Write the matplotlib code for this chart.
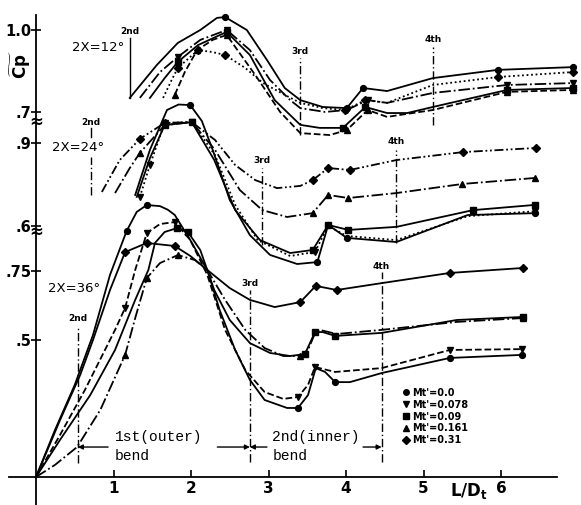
"""Pressure recovery Cp~ along a bent diffuser, three divergence angles (scan redraw)."""
import numpy as np
import matplotlib.pyplot as plt
from matplotlib.lines import Line2D

# ---- data: L/Dt and Cp (each group on its own Cp scale) ----
MACH = ["0.0", "0.078", "0.09", "0.161", "0.31"]
MARKERS = ["o", "v", "s", "^", "D"]

# 2X = 36 deg
x36_m000 = [0, .245, .50, .735, .955, 1.17, 1.30, 1.43, 1.60, 1.70, 1.79, 1.99, 2.21, 2.37, 2.57,
            2.76, 2.95, 3.24, 3.38, 3.51, 3.61, 3.73, 3.86, 4.05, 4.46, 5.34, 6.27]
cp36_m000 = [0, .171, .335, .516, .735, .895, .964, .989, .985, .972, .953, .862, .753, .607, .462,
             .353, .28, .251, .251, .298, .396, .382, .345, .345, .378, .433, .444]
mk36_m000 = [5, 7, 18, 22, 25, 26]
x36_m078 = [0, .31, .63, .89, 1.02, 1.15, 1.28, 1.43, 1.60, 1.79, 1.99, 2.21, 2.44, 2.70,
            2.95, 3.19, 3.38, 3.51, 3.60, 3.86, 4.46, 5.34, 6.27]
cp36_m078 = [0, .153, .316, .462, .535, .615, .753, .887, .92, .927, .862, .735, .535, .389,
             .309, .284, .291, .335, .40, .382, .396, .462, .465]
mk36_m078 = [5, 7, 9, 16, 18, 21, 22]
x36_m090 = [0, .31, .70, 1.02, 1.28, 1.45, 1.535, 1.66, 1.82, 1.96, 2.12, 2.30, 2.50, 2.76,
            3.02, 3.28, 3.47, 3.60, 3.70, 3.86, 4.46, 5.43, 6.28]
cp36_m090 = [0, .135, .298, .462, .644, .753, .851, .891, .905, .891, .825, .68, .571, .487,
             .451, .44, .447, .527, .527, .513, .524, .571, .582]
mk36_m090 = [8, 9, 16, 17, 19, 22]
x36_m161 = [0, .245, .53, .83, 1.15, 1.28, 1.43, 1.60, 1.83, 2.05, 2.21, 2.44, 2.70, 2.95,
            3.19, 3.41, 3.51, 3.59, 3.66, 3.88, 4.46, 5.43, 6.28]
cp36_m161 = [0, .044, .109, .244, .444, .578, .724, .778, .807, .789, .753, .644, .535, .469,
             .44, .44, .462, .516, .535, .52, .535, .564, .578]
mk36_m161 = [4, 6, 8, 15, 22]
x36_m310 = [0, .31, .57, .735, .955, 1.15, 1.43, 1.79, 1.99, 2.21, 2.50, 2.76, 3.08, 3.41,
            3.61, 3.88, 4.46, 5.34, 6.28]
cp36_m310 = [0, .207, .371, .498, .68, .818, .851, .84, .804, .753, .687, .644, .618, .636,
             .695, .68, .705, .742, .76]
mk36_m310 = [5, 6, 7, 13, 14, 15, 17, 18]

# 2X = 24 deg
x24_m000 = [1.28, 1.47, 1.69, 1.84, 1.99, 2.14, 2.28, 2.50, 2.76, 3.02, 3.37, 3.63, 3.77, 4.01,
            4.65, 5.57, 6.44]
cp24_m000 = [.711, .875, 1.02, 1.04, 1.038, .98, .875, .693, .565, .493, .46, .467, .602, .555,
             .54, .638, .645]
mk24_m000 = [4, 11, 12, 13, 16]
x24_m078 = [1.34, 1.47, 1.66, 2.01, 2.31, 2.57, 2.86, 3.28, 3.60, 3.77, 4.01, 4.65, 5.57, 6.44]
cp24_m078 = [.704, .82, .973, .976, .856, .675, .547, .489, .504, .598, .562, .547, .634, .652]
mk24_m078 = [0, 1, 2, 3, 8, 13]
x24_m090 = [1.30, 1.47, 1.66, 2.01, 2.30, 2.57, 2.89, 3.28, 3.57, 3.77, 4.03, 4.65, 5.64, 6.44]
cp24_m090 = [.704, .845, .965, .976, .838, .656, .547, .50, .511, .602, .584, .595, .656, .675]
mk24_m090 = [2, 3, 8, 9, 10, 12, 13]
x24_m161 = [1.02, 1.21, 1.34, 1.66, 2.01, 2.31, 2.63, 2.92, 3.24, 3.57, 3.77, 4.03, 4.65, 5.50, 6.44]
cp24_m161 = [.718, .809, .864, .965, .976, .875, .729, .656, .631, .645, .711, .70, .718, .751, .773]
mk24_m161 = [2, 9, 10, 11, 13, 14]
x24_m310 = [.85, 1.08, 1.34, 1.66, 2.01, 2.31, 2.57, 2.83, 3.11, 3.41, 3.57, 3.77, 4.05, 4.65, 5.51, 6.45]
cp24_m310 = [.722, .838, .915, .973, .976, .911, .82, .765, .736, .744, .765, .809, .802, .838, .867, .882]
mk24_m310 = [2, 3, 10, 11, 12, 14, 15]

# 2X = 12 deg
x12_m000 = [1.21, 1.56, 1.83, 2.12, 2.335, 2.44, 2.72, 2.98, 3.21, 3.41, 3.70, 4.01, 4.22,
            4.53, 5.12, 5.96, 6.93]
cp12_m000 = [.753, .873, .953, 1.0, 1.044, 1.047, 1.0, .891, .789, .745, .72, .716, .789,
             .778, .825, .855, .865]
mk12_m000 = [5, 11, 12, 15, 16]
x12_m078 = [1.34, 1.60, 1.83, 2.12, 2.46, 2.76, 3.02, 3.28, 3.41, 3.73, 4.01, 4.28, 4.53, 5.12, 6.08, 6.93]
cp12_m078 = [.753, .847, .902, .964, 1.0, .927, .818, .745, .716, .702, .709, .745, .735, .771, .80, .807]
mk12_m078 = [2, 4, 10, 11, 14, 15]
x12_m090 = [1.47, 1.66, 1.83, 2.09, 2.46, 2.76, 3.08, 3.41, 3.66, 3.96, 4.25, 4.53, 4.79, 5.12, 6.08, 6.93]
cp12_m090 = [.753, .825, .884, .945, .993, .909, .745, .655, .644, .644, .72, .698, .698, .72, .782, .789]
mk12_m090 = [2, 4, 9, 10, 14, 15]
x12_m161 = [1.79, 1.92, 2.08, 2.28, 2.46, 2.83, 3.15, 3.41, 3.79, 4.01, 4.28, 4.53, 5.12, 6.08, 6.93]
cp12_m161 = [.764, .847, .927, .964, .982, .836, .702, .625, .618, .636, .709, .684, .709, .775, .782]
mk12_m161 = [0, 2, 4, 9, 10, 13, 14]
x12_m310 = [1.64, 1.75, 1.83, 1.99, 2.09, 2.27, 2.44, 2.70, 2.93, 3.21, 3.41, 3.70, 3.99,
            4.25, 4.53, 5.12, 5.96, 6.93]
cp12_m310 = [.753, .818, .862, .902, .927, .92, .909, .862, .807, .764, .735, .716, .709,
             .745, .735, .80, .829, .847]
mk12_m310 = [2, 4, 6, 12, 13, 16, 17]

# bend stations (L/Dt) with the Cp span of each marker line and its label height
BEND_NAMES = ["2nd", "3rd", "4th"]
bend36_x = [0.54, 2.76, 4.46]
bend36_lo = [0.05, 0.055, 0.055]
bend36_hi = [0.545, 0.68, 0.745]
bend36_lab = [0.578, 0.705, 0.764]
bend24_x = [0.71, 2.92, 4.65]
bend24_lo = [0.711, 0.529, 0.536]
bend24_hi = [0.849, 0.809, 0.875]
bend24_lab = [0.973, 0.838, 0.904]
bend12_x = [1.21, 3.41, 5.12]
bend12_lo = [0.753, 0.618, 0.655]
bend12_hi = [0.971, 0.898, 0.938]
bend12_lab = [0.996, 0.92, 0.964]

# stacked scales: vertical shift of each group on the common axis
OFF36, OFF24, OFF12 = 0.0, 0.3145, 0.6255

# ---- layout (pixels of the 581x505 scan) ----
W, H = 581, 505
PX_X = 77.5      # px per unit L/Dt
PX_Y = 275.0     # px per unit Cp
X0_PX, Y0_PX = 36, 477
XMIN, XMAX = -0.35, 6.95
YMIN, YMAX = -0.102, 1.698

plt.rcParams.update({"font.family": "DejaVu Sans", "font.weight": "bold",
                     "lines.solid_joinstyle": "round", "lines.dash_joinstyle": "round"})
fig = plt.figure(figsize=(W / 100, H / 100), dpi=100)
ax = fig.add_axes([(X0_PX + XMIN * PX_X) / W, (H - Y0_PX + YMIN * PX_Y) / H,
                   (XMAX - XMIN) * PX_X / W, (YMAX - YMIN) * PX_Y / H])
ax.set_xlim(XMIN, XMAX)
ax.set_ylim(YMIN, YMAX)

groups = [
    (OFF36, [(x36_m000, cp36_m000, mk36_m000, "-"), (x36_m078, cp36_m078, mk36_m078, "--"),
             (x36_m090, cp36_m090, mk36_m090, "-"), (x36_m161, cp36_m161, mk36_m161, "-."),
             (x36_m310, cp36_m310, mk36_m310, "-")]),
    (OFF24, [(x24_m000, cp24_m000, mk24_m000, "-"), (x24_m078, cp24_m078, mk24_m078, (0, (1, 1.5))),
             (x24_m090, cp24_m090, mk24_m090, "-"), (x24_m161, cp24_m161, mk24_m161, "-."),
             (x24_m310, cp24_m310, mk24_m310, (0, (5, 1.5, 1, 1.5, 1, 1.5)))]),
    (OFF12, [(x12_m000, cp12_m000, mk12_m000, "-"), (x12_m078, cp12_m078, mk12_m078, "-."),
             (x12_m090, cp12_m090, mk12_m090, "-"), (x12_m161, cp12_m161, mk12_m161, "--"),
             (x12_m310, cp12_m310, mk12_m310, (0, (1, 1.5)))]),
]
for off, curves in groups:
    for (x, cp, mk, ls), m in zip(curves, MARKERS):
        ax.plot(x, np.array(cp) + off, color="k", lw=1.3, ls=ls, marker=m, markevery=mk,
                ms=4.2, mfc="k", mec="k", clip_on=False)

# bend marker lines
for off, bx, lo, hi, lab in [(OFF36, bend36_x, bend36_lo, bend36_hi, bend36_lab),
                             (OFF24, bend24_x, bend24_lo, bend24_hi, bend24_lab),
                             (OFF12, bend12_x, bend12_lo, bend12_hi, bend12_lab)]:
    for name, x, a, b, t in zip(BEND_NAMES, bx, lo, hi, lab):
        ls = "-" if (off == OFF12 and name == "2nd") else (0, (6, 2, 1, 2))
        ax.plot([x, x], [a + off, b + off], color="k", lw=1.0, ls=ls)
        ax.text(x, t + off, name, ha="center", va="center", fontsize=6.5, fontweight="bold")
ax.plot([bend24_x[0]] * 2, [0.922 + OFF24, 0.955 + OFF24], color="k", lw=1.0)

# group labels
ax.text(0.46, 0.935 + OFF12, "2X=12°", fontsize=9.5, va="center", fontweight="normal")
ax.text(0.21, 0.882 + OFF24, "2X=24°", fontsize=9.5, va="center", fontweight="normal")
ax.text(0.15, 0.687 + OFF36, "2X=36°", fontsize=9.5, va="center", fontweight="normal")

# bend region annotations
mono = dict(family="Liberation Mono", fontsize=10.5, fontweight="normal")
ax.text(1.02, 0.145, "1st(outer)", va="center", **mono)
ax.text(1.02, 0.076, "bend", va="center", **mono)
ax.text(3.05, 0.145, "2nd(inner)", va="center", **mono)
ax.text(3.05, 0.076, "bend", va="center", **mono)
arrow = dict(arrowstyle="-|>", lw=1.0, color="k", mutation_scale=7, shrinkA=0, shrinkB=0)
ax.annotate("", xy=(bend36_x[0], 0.109), xytext=(0.93, 0.109), arrowprops=arrow)
ax.annotate("", xy=(bend36_x[1], 0.109), xytext=(2.34, 0.109), arrowprops=arrow)
ax.annotate("", xy=(bend36_x[1], 0.109), xytext=(2.98, 0.109), arrowprops=arrow)
ax.annotate("", xy=(bend36_x[2], 0.109), xytext=(4.22, 0.109), arrowprops=arrow)

# axes: spines through the origin, stacked tick labels with break marks
for s in ["top", "right"]:
    ax.spines[s].set_visible(False)
ax.spines["left"].set_position(("data", 0))
ax.spines["bottom"].set_position(("data", 0))
ax.spines["bottom"].set_bounds(XMIN, 6.72)
ax.spines["left"].set_bounds(YMIN, 1.68)
ax.spines["left"].set_linewidth(1.3)
ax.spines["bottom"].set_linewidth(1.3)
ax.set_xticks([1, 2, 3, 4, 5, 6])
ax.tick_params(axis="x", direction="in", length=5, width=1.2, pad=3, labelsize=11)
ax.set_yticks([0.5, 0.75, 0.6 + OFF24, 0.9 + OFF24, 0.7 + OFF12, 1.0 + OFF12],
              [".5", ".75", ".6", ".9", ".7", "1.0"])
ax.tick_params(axis="y", direction="inout", length=7, width=1.2, pad=0, labelsize=10.5)
for t in ax.get_xticklabels() + ax.get_yticklabels():
    t.set_fontweight("bold")
for yb in [1.291, 0.891]:
    ax.text(0, yb, "≈", ha="center", va="center", fontsize=12, fontweight="bold")

ax.text(-0.2, 1.50, r"$\widetilde{\mathrm{Cp}}$", rotation=90, ha="center", va="center",
        fontsize=12)
ax.text(5.58, -0.05, r"L/D$_\mathrm{t}$", ha="center", va="center", fontsize=12,
        fontweight="bold")

handles = [Line2D([], [], ls="none", marker=m, color="k", ms=4) for m in MARKERS]
ax.legend(handles, [f"Mt'={m}" for m in MACH], loc="upper left",
          bbox_to_anchor=(4.72, 0.325), bbox_transform=ax.transData, frameon=False,
          fontsize=7, handlelength=0.8, handletextpad=0.3, labelspacing=0.2,
          borderpad=0, borderaxespad=0)

fig.savefig("out.png", dpi=100)
